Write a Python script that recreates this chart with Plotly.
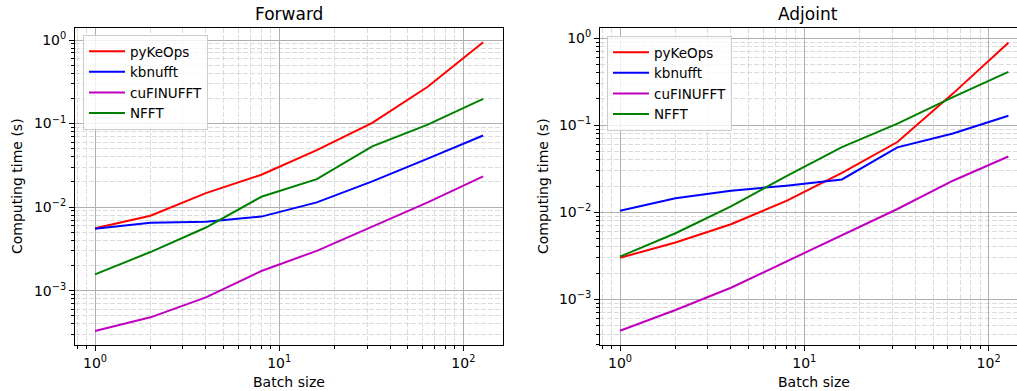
import numpy as np
import plotly.graph_objects as go

batch = [1, 2, 4, 8, 16, 32, 64, 128]

fwd_pykeops = [0.0056, 0.0079, 0.0147, 0.0244, 0.048, 0.102, 0.276, 0.94]
fwd_kbnufft = [0.0055, 0.0065, 0.0067, 0.0077, 0.0114, 0.0203, 0.038, 0.072]
fwd_cufinufft = [0.00033, 0.00048, 0.00083, 0.00172, 0.0030, 0.0059, 0.0114, 0.0233]
fwd_nfft = [0.00157, 0.0029, 0.0057, 0.0133, 0.0216, 0.0534, 0.097, 0.197]

adj_pykeops = [0.0030, 0.00449, 0.00728, 0.0135, 0.0283, 0.064, 0.23, 0.885]
adj_kbnufft = [0.0104, 0.0145, 0.0177, 0.0202, 0.0238, 0.0555, 0.080, 0.128]
adj_cufinufft = [0.000436, 0.000755, 0.00136, 0.00271, 0.0055, 0.0109, 0.023, 0.0436]
adj_nfft = [0.0031, 0.00574, 0.0117, 0.026, 0.056, 0.104, 0.21, 0.408]

names = ["pyKeOps", "kbnufft", "cuFINUFFT", "NFFT"]
colors = ["#ff0000", "#0000ff", "#bf00bf", "#008000"]

titles = ["Forward", "Adjoint"]
xlabel = "Batch size"
ylabel = "Computing time (s)"

x_tickvals = [1, 10, 100]
x_ticktext = ["10<sup>0</sup>", "10<sup>1</sup>", "10<sup>2</sup>"]
y_tickvals = [1e-3, 1e-2, 1e-1, 1]
y_ticktext = ["10<sup>−3</sup>", "10<sup>−2</sup>", "10<sup>−1</sup>", "10<sup>0</sup>"]

minor_x = [m * 10 ** e for e in range(-1, 3) for m in range(2, 10)]
minor_y = [m * 10 ** e for e in range(-5, 1) for m in range(2, 10)]

W, H = 1017, 391
fig = go.Figure()

fwd = [fwd_pykeops, fwd_kbnufft, fwd_cufinufft, fwd_nfft]
adj = [adj_pykeops, adj_kbnufft, adj_cufinufft, adj_nfft]

for i in range(4):
    fig.add_trace(go.Scatter(x=batch, y=fwd[i], mode="lines", name=names[i],
                             line=dict(color=colors[i], width=2),
                             xaxis="x", yaxis="y", legend="legend"))
for i in range(4):
    fig.add_trace(go.Scatter(x=batch, y=adj[i], mode="lines", name=names[i],
                             line=dict(color=colors[i], width=2),
                             xaxis="x2", yaxis="y2", legend="legend2"))

font = "DejaVu Sans"
tickfont = dict(family=font, size=14, color="#000")
major_grid = "#b0b0b0"
minor_grid = "#dcdcdc"
mdash = "5px,2px"

def xax(domain, rng):
    return dict(type="log", domain=domain, range=rng,
                tickmode="array", tickvals=x_tickvals, ticktext=x_ticktext,
                ticks="outside", ticklen=5, tickwidth=1, tickcolor="#000",
                tickfont=tickfont, showline=True, linecolor="#000", linewidth=1,
                mirror=True, showgrid=True, gridcolor=major_grid, gridwidth=1,
                zeroline=False,
                minor=dict(tickmode="array", tickvals=minor_x, ticks="outside",
                           ticklen=3, tickcolor="#000", showgrid=True,
                           gridcolor=minor_grid, griddash=mdash, gridwidth=1))

def yax(domain, rng, anchor, mirror):
    return dict(type="log", domain=domain, range=rng, anchor=anchor,
                tickmode="array", tickvals=y_tickvals, ticktext=y_ticktext,
                ticks="outside", ticklen=5, tickwidth=1, tickcolor="#000",
                tickfont=tickfont, showline=True, linecolor="#000", linewidth=1,
                mirror=mirror, showgrid=True, gridcolor=major_grid, gridwidth=1,
                zeroline=False,
                minor=dict(tickmode="array", tickvals=minor_y, ticks="outside",
                           ticklen=3, tickcolor="#000", showgrid=True,
                           gridcolor=minor_grid, griddash=mdash, gridwidth=1))

legfont = dict(family=font, size=13.5, color="#000")
ydom = [1 - 345 / H, 1 - 28 / H]
fig.update_layout(
    width=W, height=H, margin=dict(l=0, r=0, t=0, b=0),
    paper_bgcolor="white", plot_bgcolor="white",
    font=dict(family=font, size=14, color="#000"),
    xaxis=xax([75 / W, 503 / W], [-0.1086, 2.215]),
    yaxis=yax(ydom, [-3.65, 0.1437], "x", True),
    xaxis2=dict(xax([600 / W, 1.0], [-0.1085, 2.154]), anchor="y2"),
    yaxis2=yax(ydom, [-3.524, 0.115], "x2", False),
    legend=dict(x=83 / W, y=1 - 35 / H, xanchor="left", yanchor="top",
                bgcolor="rgba(255,255,255,0.8)", bordercolor="#cccccc",
                borderwidth=1, font=legfont, itemwidth=36,
                tracegroupgap=0),
    legend2=dict(x=607 / W, y=1 - 36 / H, xanchor="left", yanchor="top",
                 bgcolor="rgba(255,255,255,0.8)", bordercolor="#cccccc",
                 borderwidth=1, font=legfont, itemwidth=36,
                 tracegroupgap=0),
    showlegend=True,
)

ann = []
centers = [(75 + 503) / 2, 808]
for k, c in enumerate(centers):
    ann.append(dict(text=titles[k], x=c / W, y=1 - 14 / H, xref="paper", yref="paper",
                    xanchor="center", yanchor="middle", showarrow=False,
                    font=dict(family=font, size=17, color="#000")))
ann.append(dict(text=xlabel, x=289 / W, y=1 - 382 / H, xref="paper", yref="paper",
                xanchor="center", yanchor="middle", showarrow=False,
                font=dict(family=font, size=14)))
ann.append(dict(text=xlabel, x=814 / W, y=1 - 382 / H, xref="paper", yref="paper",
                xanchor="center", yanchor="middle", showarrow=False,
                font=dict(family=font, size=14)))
ann.append(dict(text=ylabel, x=17 / W, y=1 - 186 / H, xref="paper", yref="paper",
                xanchor="center", yanchor="middle", showarrow=False, textangle=-90,
                font=dict(family=font, size=14)))
ann.append(dict(text=ylabel, x=543 / W, y=1 - 186 / H, xref="paper", yref="paper",
                xanchor="center", yanchor="middle", showarrow=False, textangle=-90,
                font=dict(family=font, size=14)))
fig.update_layout(annotations=ann)

fig.write_html("out.html")
